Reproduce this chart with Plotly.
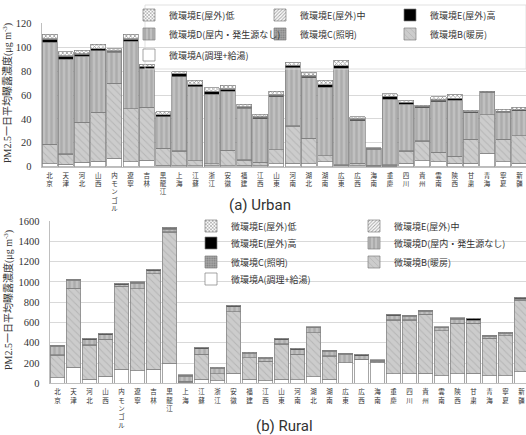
import plotly.graph_objects as go

W, H = 526, 435

provinces = ["北京", "天津", "河北", "山西", "内モンゴル", "遼寧", "吉林", "黒龍江", "上海", "江蘇",
             "浙江", "安徽", "福建", "江西", "山東", "河南", "湖北", "湖南", "広東", "広西",
             "海南", "重慶", "四川", "貴州", "雲南", "陝西", "甘粛", "青海", "寧夏", "新疆"]

# ---- Urban (µg/m3) ----
urban_A = [2.5, 2, 3.7, 4.5, 7, 4.2, 5.6, 1.4, 0.9, 1, 0.8, 1, 1.3, 1, 2.3, 2.8, 2.3, 4.2, 1, 1,
           0.5, 0.5, 2.8, 4.8, 4.2, 2.8, 2.8, 11.2, 4.2, 2.8]
urban_B = [16, 8.6, 33.4, 41, 62.8, 44.1, 44.1, 14, 12.2, 3.8, 1.5, 12.4, 4.3, 2.7, 11.7, 31.2, 21.4, 4.8, 0.4, 1.8,
           0.5, 0.9, 10.3, 16.7, 7.8, 5.6, 20.1, 32.1, 18.7, 23.1]
urban_C = [0.2] * 30
urban_D = [85.3, 79.1, 55.3, 51.3, 25.8, 56.4, 32.1, 26.2, 62.0, 62.0, 58.3, 49.7, 43.1, 36.3, 44.4, 48.6, 50.6, 57.2, 80.2, 35.5,
           13.4, 54.8, 38.9, 27.7, 42.2, 47.2, 22.1, 18.8, 22.4, 20.9]
urban_Eh = [2.6, 2.7, 1.7, 1.5, 1, 1.7, 1.7, 1.5, 2.3, 1.4, 2, 1.5, 0.8, 1.1, 1.4, 1.7, 1.4, 2, 2.5, 1.2,
            0.4, 2.2, 1.4, 0.8, 1.4, 1.1, 0.6, 0.2, 0.5, 0.5]
urban_Em = [0.3] * 30
urban_El = [4.1, 3.4, 3.0, 3.6, 1.6, 4.1, 1.7, 2.4, 1.6, 3.8, 3.0, 3.0, 2.2, 2.2, 3.0, 2.6, 3.0, 3.6, 4.4, 1.8,
            0.6, 2.2, 1.9, 1.1, 2.5, 3.4, 1.3, 0.5, 1.7, 1.9]

# ---- Rural (µg/m3) ----
rural_A = [55, 158, 42, 72, 138, 124, 141, 197, 10, 39, 26, 98, 42, 26, 42, 33, 65, 39, 203, 236,
           203, 92, 92, 98, 75, 92, 98, 75, 75, 114]
rural_B = [224, 778, 335, 361, 817, 806, 937, 1293, 6, 247, 66, 607, 210, 187, 345, 253, 433, 230, 0, 0,
           0, 532, 532, 582, 443, 499, 493, 368, 394, 706]
rural_C = [2] * 30
rural_D = [82, 76, 50, 45, 16, 56, 28, 26, 52, 55, 54, 46, 40, 30, 42, 45, 46, 45, 82, 36,
           13, 38, 35, 28, 26, 39, 29, 19, 20, 11]
rural_Eh = [8, 8, 8, 8, 7, 8, 9, 12, 7, 7, 5, 12, 6, 6, 7, 7, 7, 7, 5, 7,
            6, 13, 7, 7, 7, 8, 12, 7, 6, 8]
rural_Em = [2] * 30
rural_El = [4, 4, 4, 3, 3, 3, 4, 5, 3, 3, 3, 4, 3, 3, 3, 3, 3, 3, 2, 3,
            4, 4, 3, 3, 3, 4, 4, 3, 3, 4]

names = {
    "A": "微環境A(調理+給湯)",
    "B": "微環境B(暖房)",
    "C": "微環境C(照明)",
    "D": "微環境D(屋内・発生源なし)",
    "Eh": "微環境E(屋外)高",
    "Em": "微環境E(屋外)中",
    "El": "微環境E(屋外)低",
}
order = ["A", "B", "C", "D", "Eh", "Em", "El"]
urban = {"A": urban_A, "B": urban_B, "C": urban_C, "D": urban_D, "Eh": urban_Eh, "Em": urban_Em, "El": urban_El}
rural = {"A": rural_A, "B": rural_B, "C": rural_C, "D": rural_D, "Eh": rural_Eh, "Em": rural_Em, "El": rural_El}

styles = {
    "A": dict(color="white", pattern=dict(shape="")),
    "B": dict(color="#cccccc", pattern=dict(shape="\\", fgcolor="#9e9e9e", bgcolor="#cccccc", size=5, solidity=0.2)),
    "C": dict(color="#9a9a9a", pattern=dict(shape=".", fgcolor="#555555", bgcolor="#a8a8a8", size=3, solidity=0.4)),
    "D": dict(color="#b0b0b0", pattern=dict(shape="|", fgcolor="#e6e6e6", bgcolor="#acacac", size=5, solidity=0.35)),
    "Eh": dict(color="black", pattern=dict(shape="")),
    "Em": dict(color="white", pattern=dict(shape="/", fgcolor="#444444", bgcolor="white", size=3, solidity=0.4)),
    "El": dict(color="white", pattern=dict(shape="x", fgcolor="#333333", bgcolor="white", size=3, solidity=0.45)),
}

# legend entry positions in pixels: (swatch left, row centre)
urban_pos = {"El": (150, 15), "Em": (281, 15), "Eh": (411, 15),
             "D": (150, 34), "C": (281, 34), "B": (411, 34),
             "A": (150, 55)}
rural_pos = {"El": (212, 226), "Em": (375, 226),
             "Eh": (212, 243), "D": (375, 243),
             "C": (212, 262), "B": (375, 262),
             "A": (212, 279)}

def vert(s):
    return "<br>".join(list(s))

tick_text = [vert(p) for p in provinces]

fig = go.Figure()
legend_layouts = {}
lid = 0
for panel, data, pos, xa, ya in [("u", urban, urban_pos, "x", "y"), ("r", rural, rural_pos, "x2", "y2")]:
    for k in order:
        lid += 1
        lname = "legend" if lid == 1 else f"legend{lid}"
        st = styles[k]
        fig.add_trace(go.Bar(
            x=provinces, y=data[k], name=names[k], xaxis=xa, yaxis=ya,
            legend=lname,
            marker=dict(color=st["color"], pattern=st["pattern"],
                        line=dict(color="#808080", width=0.7)),
            hoverinfo="skip",
        ))
        px, py = pos[k]
        legend_layouts[lname] = dict(
            x=(px - 21) / W, y=1 - py / H, xanchor="left", yanchor="middle",
            bgcolor="rgba(0,0,0,0)", borderwidth=0,
            font=dict(family="Noto Sans CJK JP", size=9, color="#333333"),
            itemclick=False, itemdoubleclick=False,
        )

axis_font = dict(family="Liberation Serif", size=10.5, color="#333333")
cat_font = dict(family="Noto Sans CJK JP", size=6.5, color="#333333")

common_x = dict(type="category", tickmode="array", tickvals=provinces, ticktext=tick_text,
                tickfont=cat_font, showline=True, linecolor="#bfbfbf", linewidth=1, ticks="",
                showgrid=False, ticklabelstandoff=2, automargin=False)
common_y = dict(tickfont=axis_font, showline=True, linecolor="#bfbfbf", linewidth=1,
                gridcolor="#d9d9d9", gridwidth=0.8, ticks="", zeroline=False,
                ticklabelstandoff=7, automargin=False)

fig.update_layout(
    width=W, height=H, margin=dict(l=0, r=0, t=0, b=0, autoexpand=False),
    paper_bgcolor="white", plot_bgcolor="white",
    barmode="stack", bargap=0.07, showlegend=True,
    xaxis=dict(domain=[41.5 / W, 1], range=[-0.5, 29.4], anchor="y", **common_x),
    yaxis=dict(domain=[1 - 166.7 / H, 1 - 23.3 / H], range=[0, 120], dtick=20, anchor="x", **common_y),
    xaxis2=dict(domain=[49.5 / W, 1], range=[-0.5, 29.28], anchor="y2", **common_x),
    yaxis2=dict(domain=[1 - 383.3 / H, 1 - 221 / H], range=[0, 1600], dtick=200, anchor="x2", **common_y),
    **legend_layouts,
)

# legend frames
fig.add_shape(type="rect", xref="paper", yref="paper",
              x0=145 / W, x1=1, y0=1 - 69 / H, y1=1 - 5 / H,
              line=dict(color="#d9d9d9", width=0.8), fillcolor="rgba(0,0,0,0)", layer="above")
fig.add_shape(type="rect", xref="paper", yref="paper",
              x0=202 / W, x1=507 / W, y0=1 - 290 / H, y1=1 - 222 / H,
              line=dict(width=0), fillcolor="white", layer="between")

ytitle = "PM2.5一日平均曝露濃度(μg m<sup>-3</sup>)"
title_font = dict(family="Liberation Serif, Noto Sans CJK JP", size=10, color="#333333")
fig.add_annotation(text=ytitle, xref="paper", yref="paper", x=8 / W, y=1 - 93 / H,
                   textangle=-90, showarrow=False, font=title_font, xanchor="center", yanchor="middle")
fig.add_annotation(text=ytitle, xref="paper", yref="paper", x=8 / W, y=1 - 300 / H,
                   textangle=-90, showarrow=False, font=title_font, xanchor="center", yanchor="middle")

sub_font = dict(family="Roboto", size=15, color="#333333")
fig.add_annotation(text="(a) Urban", xref="paper", yref="paper", x=260 / W, y=1 - 205 / H,
                   showarrow=False, font=sub_font, xanchor="center", yanchor="middle")
fig.add_annotation(text="(b) Rural", xref="paper", yref="paper", x=284 / W, y=1 - 426 / H,
                   showarrow=False, font=sub_font, xanchor="center", yanchor="middle")

fig.write_html("out.html", config={"displayModeBar": False},
               post_script="document.body.style.margin='0px';document.body.style.overflow='hidden';")
